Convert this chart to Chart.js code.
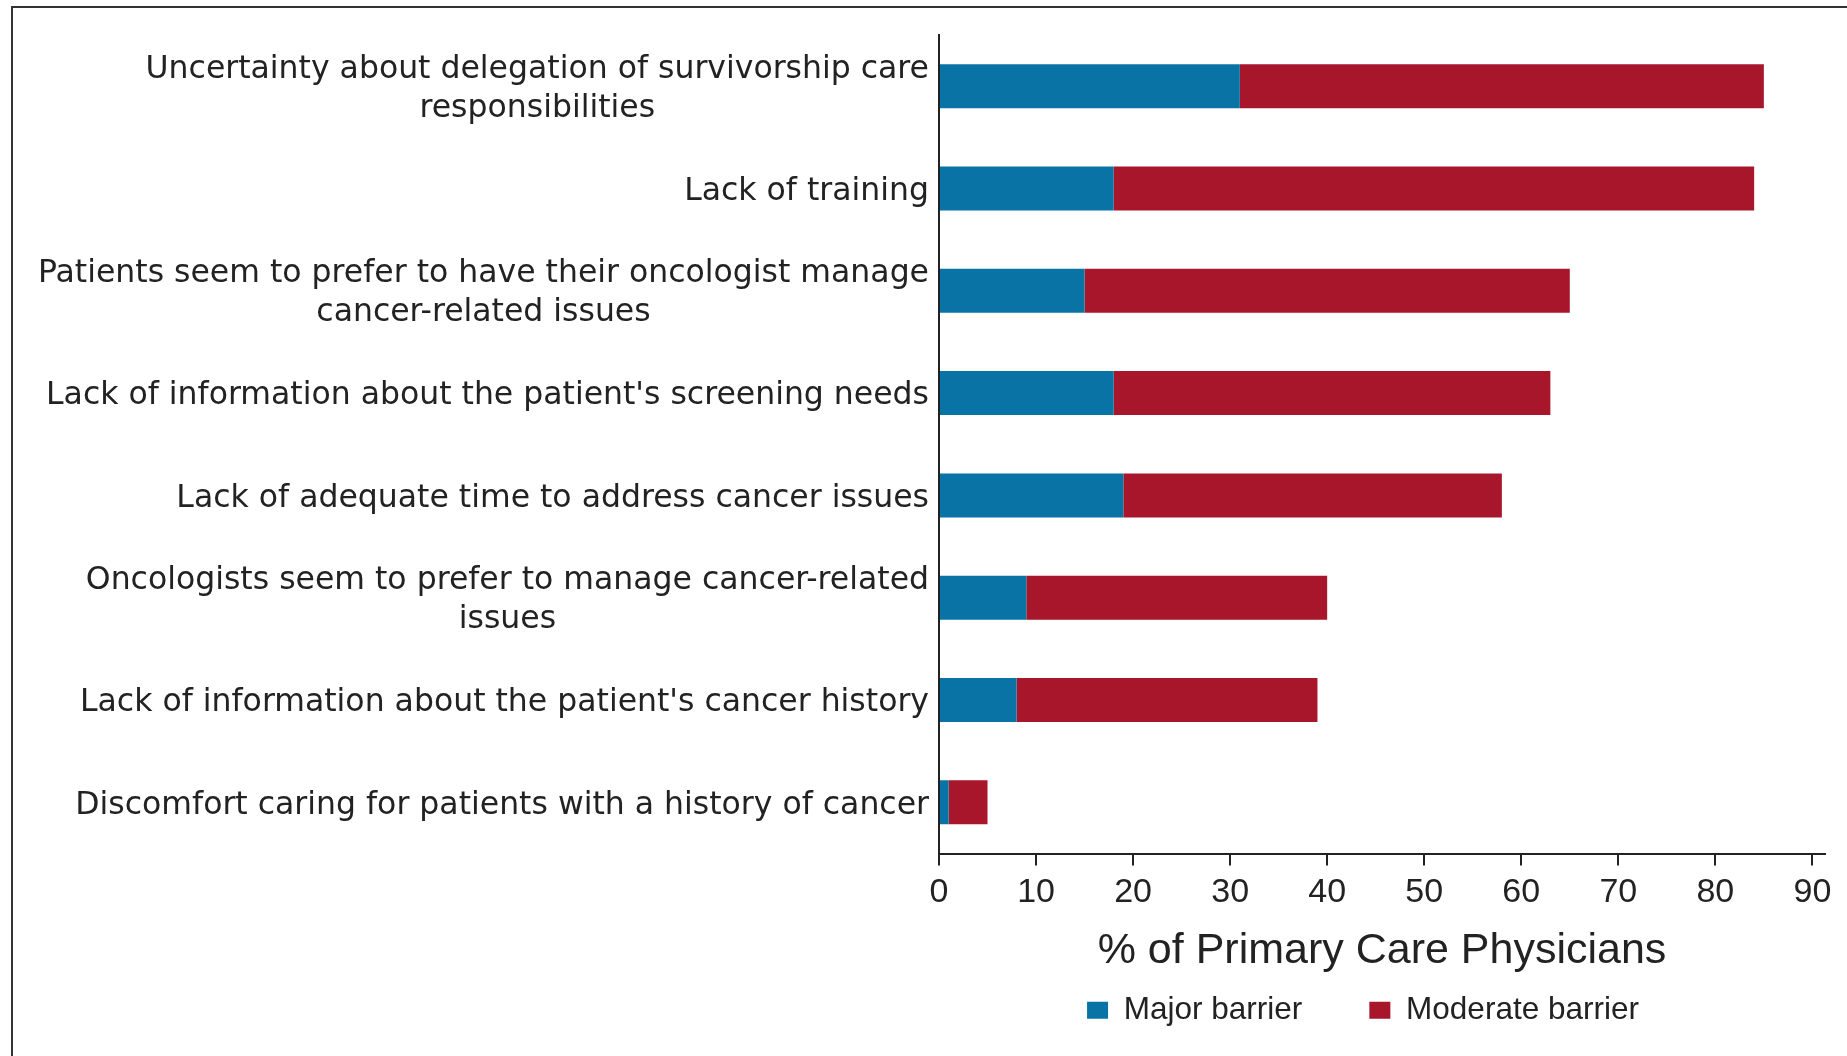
<!DOCTYPE html>
<html>
<head>
<meta charset="utf-8">
<script src="https://cdn.jsdelivr.net/npm/chart.js@4.4.1/dist/chart.umd.min.js"></script>
<style>
  html, body { margin: 0; padding: 0; background: #ffffff; overflow: hidden; }
  #frame { position: absolute; left: 11px; top: 6px; width: 1900px; height: 1100px;
           border-top: 2px solid #333; border-left: 2px solid #333; box-sizing: border-box; }
  #wrap { position: absolute; left: 0; top: 0; width: 1847px; height: 1056px; }
</style>
</head>
<body>
<div id="frame"></div>
<div id="wrap"><canvas id="c" width="1847" height="1056"></canvas></div>
<script>
const categories = [
  ["Uncertainty about delegation of survivorship care", "responsibilities"],
  "Lack of training",
  ["Patients seem to prefer to have their oncologist manage", "cancer-related issues"],
  "Lack of information about the patient's screening needs",
  "Lack of adequate time to address cancer issues",
  ["Oncologists seem to prefer to manage cancer-related", "issues"],
  "Lack of information about the patient's cancer history",
  "Discomfort caring for patients with a history of cancer"
];
const majorBarrier    = [31, 18, 15, 18, 19, 9, 8, 1];
const moderateBarrier = [54, 66, 50, 45, 39, 31, 31, 4];
const xTickValues = [0, 10, 20, 30, 40, 50, 60, 70, 80, 90];
const xAxisTitle = "% of Primary Care Physicians";
const seriesNames = ["Major barrier", "Moderate barrier"];

const TEXT = '#222222';
const LABEL_FONT = "31.5px 'DejaVu Sans'";
const LABEL_LINE = 39;

const yLabelPlugin = {
  id: 'yLabels',
  afterDraw(chart) {
    const s = chart.scales.y;
    const ctx = chart.ctx;
    ctx.save();
    ctx.font = LABEL_FONT;
    ctx.fillStyle = TEXT;
    ctx.textBaseline = 'middle';
    ctx.textAlign = 'center';
    const right = s.right - 10;
    s.ticks.forEach((t, i) => {
      const label = chart.data.labels[i];
      const lines = Array.isArray(label) ? label : [label];
      const w = Math.max(...lines.map(l => ctx.measureText(l).width));
      const cx = right - w / 2;
      const y0 = s.getPixelForTick(i) + 3 - (lines.length - 1) * LABEL_LINE / 2;
      lines.forEach((l, j) => ctx.fillText(l, cx, y0 + j * LABEL_LINE));
    });
    ctx.restore();
  }
};

const legendShiftPlugin = {
  id: 'legendShift',
  afterLayout(chart) {
    if (chart.legend) { chart.legend.left -= 19; chart.legend.right -= 19; }
  }
};

new Chart(document.getElementById('c'), {
  type: 'bar',
  data: {
    labels: categories,
    datasets: [
      { label: seriesNames[0], data: majorBarrier, backgroundColor: '#0a73a6', borderWidth: 0 },
      { label: seriesNames[1], data: moderateBarrier, backgroundColor: '#a8162b', borderWidth: 0 }
    ]
  },
  options: {
    indexAxis: 'y',
    responsive: false,
    animation: false,
    devicePixelRatio: 1,
    layout: { padding: { top: 35, right: 22, bottom: 20, left: 0 } },
    datasets: { bar: { categoryPercentage: 1.0, barPercentage: 0.43 } },
    scales: {
      x: {
        stacked: true,
        min: 0,
        max: 91.3,
        afterBuildTicks: (axis) => { axis.ticks = xTickValues.map(v => ({ value: v })); },
        afterFit: (axis) => { axis.height = 74; },
        grid: { display: true, drawOnChartArea: false, drawTicks: true, tickLength: 12, color: TEXT, lineWidth: 2 },
        border: { display: true, color: TEXT, width: 2 },
        ticks: { color: TEXT, padding: 7, font: { family: "'Liberation Sans', Arial", size: 34 }, maxRotation: 0 },
        title: {
          display: true,
          text: xAxisTitle,
          color: TEXT,
          font: { family: "'Liberation Sans', Arial", size: 43 },
          padding: { top: 0, bottom: -49 }
        }
      },
      y: {
        stacked: true,
        afterFit: (axis) => { axis.width = 939; },
        grid: { display: true, drawOnChartArea: false, drawTicks: false, color: 'rgba(0,0,0,0)' },
        border: { display: true, color: TEXT, width: 2 },
        ticks: { display: false }
      }
    },
    plugins: {
      tooltip: { enabled: false },
      legend: {
        display: true,
        position: 'bottom',
        fullSize: false,
        labels: {
          boxWidth: 21,
          boxHeight: 17,
          padding: 67,
          color: TEXT,
          font: { family: "'Liberation Sans', Arial", size: 31.5 }
        }
      }
    }
  },
  plugins: [yLabelPlugin, legendShiftPlugin]
});
</script>
</body>
</html>
